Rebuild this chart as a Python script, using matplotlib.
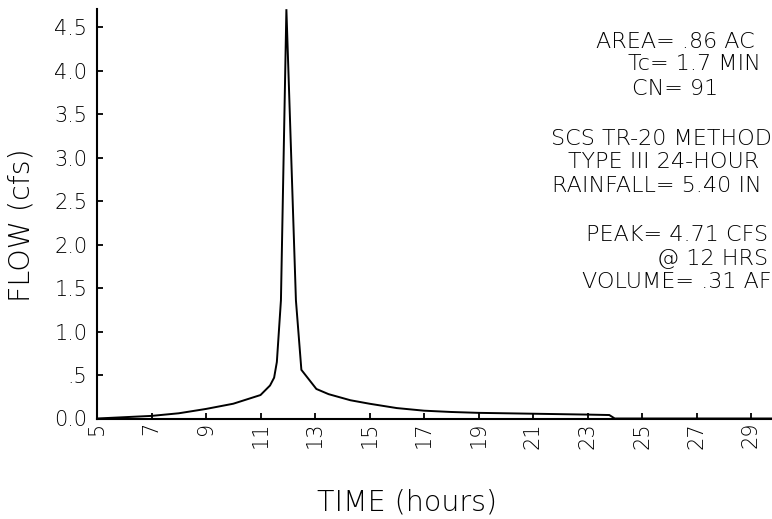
import matplotlib
matplotlib.use("Agg")
import matplotlib.pyplot as plt

hours = [5.0, 6.0, 7.0, 8.0, 9.0, 10.0, 11.0, 11.35, 11.5, 11.6, 11.75, 11.95,
         12.3, 12.5, 13.05, 13.5, 14.3, 15.0, 16.0, 17.0, 18.0, 19.0, 21.0,
         23.0, 23.8, 24.0, 30.0]
flow = [0.0, 0.015, 0.03, 0.06, 0.11, 0.17, 0.27, 0.38, 0.47, 0.65, 1.36, 4.71,
        1.36, 0.56, 0.34, 0.28, 0.21, 0.17, 0.12, 0.09, 0.075, 0.065, 0.055,
        0.045, 0.04, 0.0, 0.0]

x_ticks = [5, 7, 9, 11, 13, 15, 17, 19, 21, 23, 25, 27, 29]
x_tick_labels = [str(v) for v in x_ticks]
y_ticks = [0.0, 0.5, 1.0, 1.5, 2.0, 2.5, 3.0, 3.5, 4.0, 4.5]
y_tick_labels = ["0.0", ".5", "1.0", "1.5", "2.0", "2.5", "3.0", "3.5", "4.0", "4.5"]

info_lines = ["AREA= .86 AC", "Tc= 1.7 MIN", "CN= 91",
              "SCS TR-20 METHOD", "TYPE III 24-HOUR", "RAINFALL= 5.40 IN",
              "PEAK= 4.71 CFS", "@ 12 HRS", "VOLUME= .31 AF"]
# centre x and centre y of each line in pixels (layout)
info_cx = [675, 694, 675, 661, 664, 657, 677, 713, 677]
info_cy = [42, 64, 89, 139, 162, 186, 235, 259, 282]

W, H = 772, 519
plt.rcParams['font.family'] = ['DejaVu Sans']
plt.rcParams['font.weight'] = 'light'
fig = plt.figure(figsize=(W / 100, H / 100), dpi=100)
fig.patch.set_facecolor('white')

left_px, right_px, bottom_px, top_px = 97, 772, 418.5, 9
ax = fig.add_axes([left_px / W, 1 - bottom_px / H,
                   (right_px - left_px) / W, (bottom_px - top_px) / H])
ax.plot(hours, flow, color='black', lw=1.4, solid_joinstyle='miter')
ax.set_xlim(5, 5 + (right_px - left_px) / 27.25)
ax.set_ylim(0, (bottom_px - top_px) / 86.9)

for s in ['top', 'right']:
    ax.spines[s].set_visible(False)
for s in ['left', 'bottom']:
    ax.spines[s].set_linewidth(1.5)
    ax.spines[s].set_color('black')

ax.set_xticks(x_ticks)
ax.set_xticklabels(x_tick_labels, rotation=90, fontsize=15, fontweight='light')
ax.set_yticks(y_ticks)
ax.set_yticklabels(y_tick_labels, fontsize=15, fontweight='light')
ax.tick_params(axis='x', direction='in', length=4, width=1.3, pad=2.5)
ax.tick_params(axis='y', direction='in', length=4, width=1.3, pad=7)
for lab in ax.get_xticklabels():
    lab.set_va('top')

fig.text(407 / W, 1 - 503 / H, "TIME (hours)", ha='center', va='center',
         fontsize=20.5, fontweight='light')
fig.text(22 / W, 1 - 225 / H, "FLOW (cfs)", ha='center', va='center',
         rotation=90, fontsize=20.5, fontweight='light')

for t, cx, cy in zip(info_lines, info_cx, info_cy):
    fig.text(cx / W, 1 - cy / H, t, ha='center', va='center', fontsize=16,
             fontweight='light')

fig.savefig("out.png", dpi=100, facecolor='white')
